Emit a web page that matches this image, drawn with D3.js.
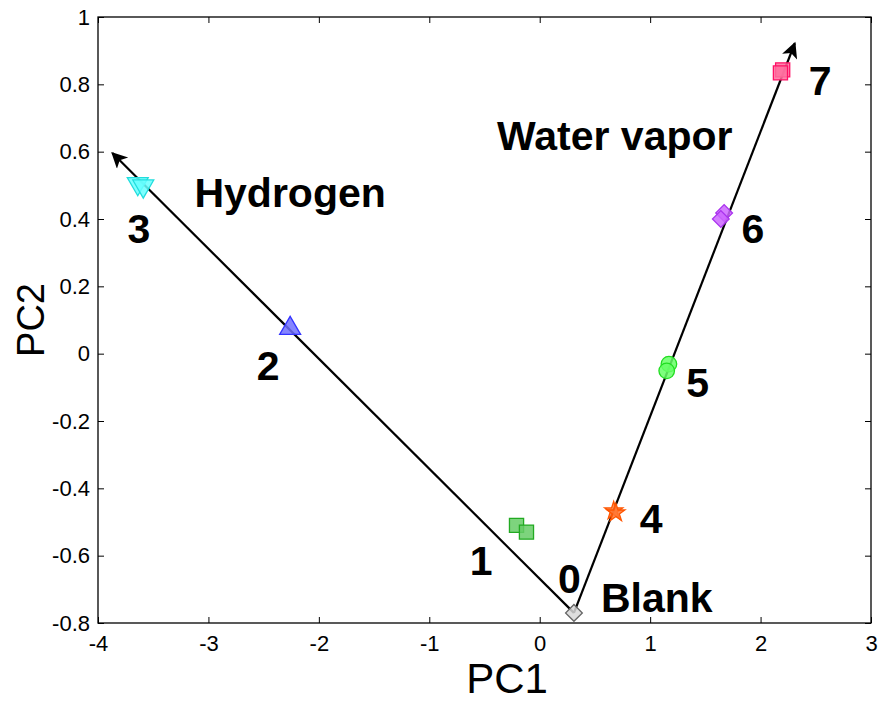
<!DOCTYPE html>
<html>
<head>
<meta charset="utf-8">
<script src="https://cdn.jsdelivr.net/npm/d3@7"></script>
<style>
  body { margin: 0; background: #fff; }
  text { font-family: "Liberation Sans", Arial, sans-serif; }
</style>
</head>
<body>
<div id="chart"></div>
<script>
// sample scores (two replicates per group, blank once)
var group = [0, 1, 1, 2, 3, 3, 4, 4, 5, 5, 6, 6, 7, 7];
var pc1 = [0.31, -0.21, -0.12, -2.26, -3.64, -3.59, 0.67, 0.69, 1.17, 1.15, 1.67, 1.64, 2.20, 2.18];
var pc2 = [-0.77, -0.51, -0.53, 0.075, 0.505, 0.498, -0.467, -0.473, -0.031, -0.051, 0.418, 0.400, 0.843, 0.834];

// group label positions (data units, baseline)
var labelText = ["0", "1", "2", "3", "4", "5", "6", "7"];
var labelX = [0.27, -0.53, -2.46, -3.63, 1.01, 1.43, 1.93, 2.54];
var labelY = [-0.711, -0.657, -0.078, 0.329, -0.532, -0.129, 0.329, 0.768];

// gas names
var gasText = ["Blank", "Hydrogen", "Water vapor"];
var gasX = [1.06, -2.26, 0.68];
var gasY = [-0.767, 0.436, 0.605];

// direction vectors from blank
var arrowFrom = [[0.31, -0.77], [0.31, -0.77]];
var arrowTo = [[-3.87, 0.596], [2.31, 0.922]];

var xTicks = [-4, -3, -2, -1, 0, 1, 2, 3];
var yTicks = [-0.8, -0.6, -0.4, -0.2, 0, 0.2, 0.4, 0.6, 0.8, 1];

var fills = ["#d8d8d8", "#66cc66", "#7070ff", "#66ffff", "#ff7733", "#66ff66", "#cc66ff", "#ff6f9f"];
var strokes = ["#666666", "#22aa22", "#3333ff", "#22dddd", "#ff5500", "#22dd22", "#aa33ee", "#ff1166"];
var shapes = ["diamond", "square", "triUp", "triDown", "star", "circle", "diamond", "square"];

var margin = {top: 17, right: 10, bottom: 78, left: 98},
    width = 881 - margin.left - margin.right,
    height = 701 - margin.top - margin.bottom;

var x = d3.scaleLinear().domain([-4, 3]).range([0, width]);
var y = d3.scaleLinear().domain([-0.8, 1]).range([height, 0]);

var svg = d3.select("#chart").append("svg")
    .attr("width", width + margin.left + margin.right)
    .attr("height", height + margin.top + margin.bottom)
  .append("g")
    .attr("transform", "translate(" + margin.left + "," + margin.top + ")");

svg.append("defs").append("marker")
    .attr("id", "arrow")
    .attr("viewBox", "0 0 10 10")
    .attr("refX", 9).attr("refY", 5)
    .attr("markerWidth", 19).attr("markerHeight", 16)
    .attr("markerUnits", "userSpaceOnUse")
    .attr("orient", "auto")
  .append("path")
    .attr("d", "M0,0 L10,5 L0,10 L2.5,5 Z")
    .attr("fill", "#000");

// axes with inward ticks, box; plain hyphen like the original
var fmt = function(d) { return String(+d.toFixed(1)); };
svg.append("g").attr("transform", "translate(0," + height + ")")
    .call(d3.axisBottom(x).tickValues(xTicks).tickSizeInner(-6).tickSizeOuter(0).tickPadding(12).tickFormat(fmt));
svg.append("g")
    .call(d3.axisLeft(y).tickValues(yTicks).tickSizeInner(-6).tickSizeOuter(0).tickPadding(8).tickFormat(fmt));
svg.append("g")
    .call(d3.axisTop(x).tickValues(xTicks).tickSizeInner(-6).tickSizeOuter(0).tickFormat(""));
svg.append("g").attr("transform", "translate(" + width + ",0)")
    .call(d3.axisRight(y).tickValues(yTicks).tickSizeInner(-6).tickSizeOuter(0).tickFormat(""));
svg.selectAll(".domain").remove();
svg.selectAll(".tick line").attr("stroke", "#000");
svg.selectAll(".tick text").attr("font-size", 22).attr("fill", "#000")
    .style("font-family", "'Liberation Sans', Arial, sans-serif");
svg.append("rect").attr("width", width).attr("height", height)
    .attr("fill", "none").attr("stroke", "#000").attr("stroke-width", 1.3);

// direction lines
svg.selectAll(".dir").data(arrowFrom).enter().append("line")
    .attr("class", "dir")
    .attr("x1", function(d) { return x(d[0]); })
    .attr("y1", function(d) { return y(d[1]); })
    .attr("x2", function(d, i) { return x(arrowTo[i][0]); })
    .attr("y2", function(d, i) { return y(arrowTo[i][1]); })
    .attr("stroke", "#000").attr("stroke-width", 2.2)
    .attr("marker-end", "url(#arrow)");

var symType = {
  square: d3.symbolSquare, circle: d3.symbolCircle, star: d3.symbolStar,
  diamond: d3.symbolSquare, triUp: d3.symbolTriangle, triDown: d3.symbolTriangle
};
var symSize = {square: 200, circle: 190, star: 100, diamond: 140, triUp: 190, triDown: 190};
var symRot = {square: 0, circle: 0, star: 0, diamond: 45, triUp: 0, triDown: 180};

var pts = pc1.map(function(v, i) { return {x: v, y: pc2[i], g: group[i]}; });
svg.selectAll(".pt").data(pts).enter().append("path")
    .attr("class", "pt")
    .attr("transform", function(d) {
      return "translate(" + x(d.x) + "," + y(d.y) + ") rotate(" + symRot[shapes[d.g]] + ")";
    })
    .attr("d", function(d) {
      var s = shapes[d.g];
      return d3.symbol().type(symType[s]).size(symSize[s])();
    })
    .attr("fill", function(d) { return fills[d.g]; })
    .attr("fill-opacity", 0.85)
    .attr("stroke", function(d) { return strokes[d.g]; })
    .attr("stroke-width", 1.3);

svg.selectAll(".num").data(labelText).enter().append("text")
    .attr("x", function(d, i) { return x(labelX[i]); })
    .attr("y", function(d, i) { return y(labelY[i]); })
    .attr("text-anchor", "middle")
    .attr("font-size", 41).attr("font-weight", "bold")
    .text(function(d) { return d; });

svg.selectAll(".gas").data(gasText).enter().append("text")
    .attr("x", function(d, i) { return x(gasX[i]); })
    .attr("y", function(d, i) { return y(gasY[i]); })
    .attr("text-anchor", "middle")
    .attr("font-size", 41).attr("font-weight", "bold")
    .text(function(d) { return d; });

svg.append("text")
    .attr("x", 409).attr("y", height + 70)
    .attr("text-anchor", "middle").attr("font-size", 42)
    .text("PC1");
svg.append("text")
    .attr("transform", "translate(" + (-54) + "," + (height / 2) + ") rotate(-90)")
    .attr("text-anchor", "middle").attr("font-size", 38)
    .text("PC2");
</script>
</body>
</html>
